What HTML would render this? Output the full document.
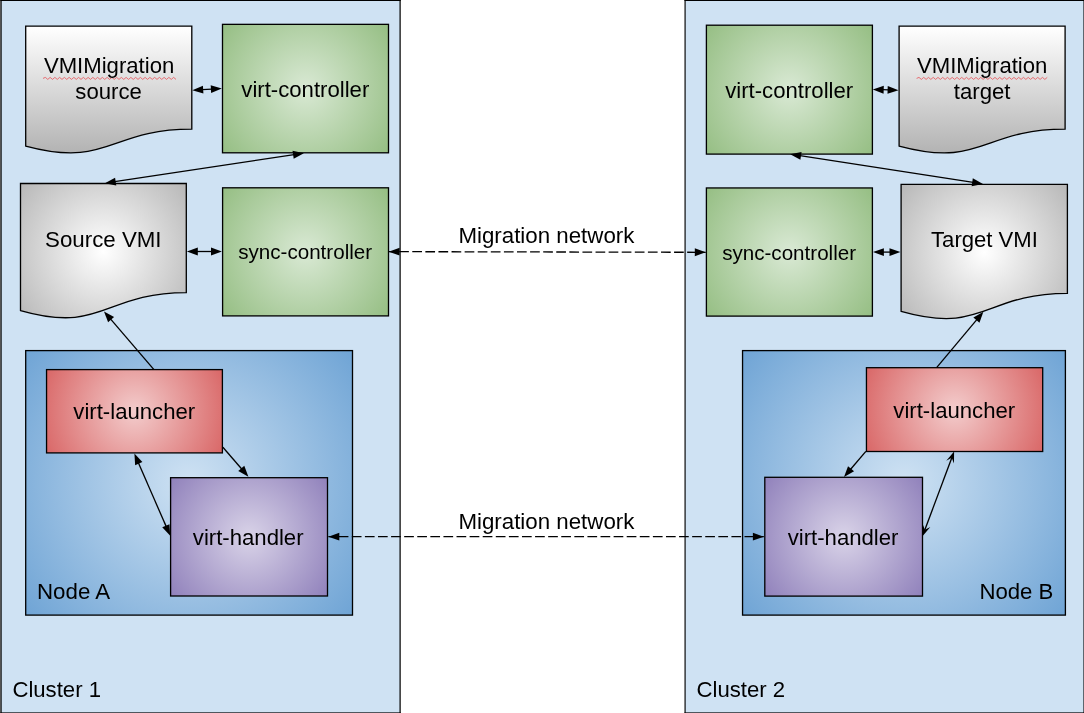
<!DOCTYPE html>
<html><head><meta charset="utf-8">
<style>
html,body{margin:0;padding:0;background:#fff;}
body{width:1084px;height:713px;overflow:hidden;}
svg{display:block;will-change:transform;}
text{font-family:"Liberation Sans",sans-serif;fill:#000;}
</style></head><body>
<svg width="1084" height="713" viewBox="0 0 1084 713">
<defs>
<linearGradient id="gGreyLin" x1="0" y1="0" x2="0" y2="1"><stop offset="0" stop-color="#ffffff"/><stop offset="1" stop-color="#b3b3b3"/></linearGradient>
<radialGradient id="g1" gradientUnits="userSpaceOnUse" cx="305.50" cy="88.58" r="104.95"><stop offset="0" stop-color="#d9e9d4"/><stop offset="1" stop-color="#95be83"/></radialGradient>
<radialGradient id="g2" gradientUnits="userSpaceOnUse" cx="103.40" cy="251.50" r="107.22"><stop offset="0" stop-color="#ffffff"/><stop offset="1" stop-color="#b7b7b7"/></radialGradient>
<radialGradient id="g3" gradientUnits="userSpaceOnUse" cx="305.55" cy="251.85" r="104.80"><stop offset="0" stop-color="#d9e9d4"/><stop offset="1" stop-color="#95be83"/></radialGradient>
<radialGradient id="g4" gradientUnits="userSpaceOnUse" cx="189.10" cy="482.85" r="210.21"><stop offset="0" stop-color="#cfe2f3"/><stop offset="1" stop-color="#6fa4d5"/></radialGradient>
<radialGradient id="g5" gradientUnits="userSpaceOnUse" cx="134.47" cy="411.25" r="97.29"><stop offset="0" stop-color="#f3cccc"/><stop offset="1" stop-color="#d96767"/></radialGradient>
<radialGradient id="g6" gradientUnits="userSpaceOnUse" cx="249.05" cy="536.85" r="98.25"><stop offset="0" stop-color="#d9d3e8"/><stop offset="1" stop-color="#9081bb"/></radialGradient>
<radialGradient id="g7" gradientUnits="userSpaceOnUse" cx="789.40" cy="89.65" r="105.08"><stop offset="0" stop-color="#d9e9d4"/><stop offset="1" stop-color="#95be83"/></radialGradient>
<radialGradient id="g8" gradientUnits="userSpaceOnUse" cx="789.40" cy="252.03" r="104.86"><stop offset="0" stop-color="#d9e9d4"/><stop offset="1" stop-color="#95be83"/></radialGradient>
<radialGradient id="g9" gradientUnits="userSpaceOnUse" cx="984.25" cy="252.35" r="107.38"><stop offset="0" stop-color="#ffffff"/><stop offset="1" stop-color="#b7b7b7"/></radialGradient>
<radialGradient id="g10" gradientUnits="userSpaceOnUse" cx="903.98" cy="482.85" r="208.68"><stop offset="0" stop-color="#cfe2f3"/><stop offset="1" stop-color="#6fa4d5"/></radialGradient>
<radialGradient id="g11" gradientUnits="userSpaceOnUse" cx="954.58" cy="409.60" r="97.58"><stop offset="0" stop-color="#f3cccc"/><stop offset="1" stop-color="#d96767"/></radialGradient>
<radialGradient id="g12" gradientUnits="userSpaceOnUse" cx="843.65" cy="536.70" r="98.72"><stop offset="0" stop-color="#d9d3e8"/><stop offset="1" stop-color="#9081bb"/></radialGradient>
</defs>
<rect x="1.0" y="0.35" width="399.11" height="712.65" fill="#cfe2f3"/>
<line x1="1.0" y1="-0.30500000000000005" x2="1.0" y2="713" stroke="#000" stroke-width="1.35"/>
<line x1="400.11" y1="-0.30500000000000005" x2="400.11" y2="713" stroke="#000" stroke-width="1.22"/>
<line x1="0.32499999999999996" y1="0.35" x2="400.72" y2="0.35" stroke="#000" stroke-width="1.31"/>
<rect x="0.32499999999999996" y="712" width="400.39500000000004" height="1" fill="#000" fill-opacity="0.62"/>
<rect x="685.075" y="0.35" width="398.9849999999999" height="712.65" fill="#cfe2f3"/>
<line x1="685.075" y1="-0.30500000000000005" x2="685.075" y2="713" stroke="#000" stroke-width="1.15"/>
<line x1="1084.06" y1="-0.30500000000000005" x2="1084.06" y2="713" stroke="#000" stroke-width="1.22"/>
<line x1="684.5" y1="0.35" x2="1084.6699999999998" y2="0.35" stroke="#000" stroke-width="1.31"/>
<rect x="684.5" y="712" width="400.1699999999998" height="1" fill="#000" fill-opacity="0.62"/>
<path d="M25.70,26.20 H191.80 V129.09 C108.75,129.09 108.75,168.29 25.70,146.02 Z" fill="url(#gGreyLin)" stroke="#000" stroke-width="1.31" stroke-linejoin="miter"/>
<rect x="222.50" y="24.35" width="166.00" height="128.45" fill="url(#g1)" stroke="#000" stroke-width="1.31"/>
<path d="M20.50,183.50 H186.30 V292.56 C103.40,292.56 103.40,334.12 20.50,310.51 Z" fill="url(#g2)" stroke="#000" stroke-width="1.31" stroke-linejoin="miter"/>
<rect x="222.60" y="187.80" width="165.90" height="128.10" fill="url(#g3)" stroke="#000" stroke-width="1.31"/>
<rect x="25.70" y="350.60" width="326.80" height="264.50" fill="url(#g4)" stroke="#000" stroke-width="1.31"/>
<rect x="46.55" y="369.60" width="175.85" height="83.30" fill="url(#g5)" stroke="#000" stroke-width="1.31"/>
<rect x="170.60" y="477.70" width="156.90" height="118.30" fill="url(#g6)" stroke="#000" stroke-width="1.31"/>
<rect x="706.40" y="25.20" width="166.00" height="128.90" fill="url(#g7)" stroke="#000" stroke-width="1.31"/>
<path d="M899.10,26.20 H1065.10 V129.17 C982.10,129.17 982.10,168.40 899.10,146.11 Z" fill="url(#gGreyLin)" stroke="#000" stroke-width="1.31" stroke-linejoin="miter"/>
<rect x="706.40" y="187.95" width="166.00" height="128.15" fill="url(#g8)" stroke="#000" stroke-width="1.31"/>
<path d="M901.10,184.40 H1067.40 V293.38 C984.25,293.38 984.25,334.91 901.10,311.32 Z" fill="url(#g9)" stroke="#000" stroke-width="1.31" stroke-linejoin="miter"/>
<rect x="742.55" y="350.60" width="322.85" height="264.50" fill="url(#g10)" stroke="#000" stroke-width="1.31"/>
<rect x="866.45" y="367.70" width="176.25" height="83.80" fill="url(#g11)" stroke="#000" stroke-width="1.31"/>
<rect x="764.80" y="477.30" width="157.70" height="118.80" fill="url(#g12)" stroke="#000" stroke-width="1.31"/>
<line x1="202.18" y1="89.63" x2="211.92" y2="89.07" stroke="#000" stroke-width="1.31"/><polygon points="192.30,90.20 202.95,85.63 203.41,93.52" fill="#000"/><polygon points="221.80,88.50 211.15,93.07 210.69,85.18" fill="#000"/>
<line x1="196.80" y1="251.50" x2="212.00" y2="251.50" stroke="#000" stroke-width="1.31"/><polygon points="186.90,251.50 197.80,247.55 197.80,255.45" fill="#000"/><polygon points="221.90,251.50 211.00,255.45 211.00,247.55" fill="#000"/>
<line x1="114.69" y1="181.72" x2="294.11" y2="154.63" stroke="#000" stroke-width="1.31"/><polygon points="104.90,183.20 115.09,177.67 116.27,185.48" fill="#000"/><polygon points="303.90,153.15 293.71,158.68 292.53,150.87" fill="#000"/>
<line x1="153.95" y1="369.60" x2="110.45" y2="318.91" stroke="#000" stroke-width="1.31"/><polygon points="104.00,311.40 114.10,317.10 108.10,322.24" fill="#000"/>
<line x1="222.90" y1="447.20" x2="241.93" y2="469.21" stroke="#000" stroke-width="1.31"/><polygon points="248.40,476.70 238.28,471.04 244.26,465.87" fill="#000"/>
<line x1="138.36" y1="462.67" x2="166.24" y2="526.63" stroke="#000" stroke-width="1.31"/><polygon points="134.40,453.60 142.38,462.01 135.14,465.17" fill="#000"/><polygon points="170.20,535.70 162.22,527.29 169.46,524.13" fill="#000"/>
<line x1="388.70" y1="251.65" x2="705.70" y2="252.30" stroke="#000" stroke-width="1.31" stroke-dasharray="9.7 3.39" stroke-dashoffset="2.6"/><polygon points="388.70,251.65 399.61,247.72 399.59,255.62" fill="#000"/><polygon points="705.70,252.30 694.79,256.23 694.81,248.33" fill="#000"/>
<line x1="328.40" y1="536.65" x2="763.80" y2="536.65" stroke="#000" stroke-width="1.31" stroke-dasharray="9.7 3.39" stroke-dashoffset="2.77"/><polygon points="328.40,536.65 339.30,532.70 339.30,540.60" fill="#000"/><polygon points="763.80,536.65 752.90,540.60 752.90,532.70" fill="#000"/>
<line x1="882.70" y1="89.71" x2="888.60" y2="89.89" stroke="#000" stroke-width="1.31"/><polygon points="872.80,89.40 883.82,85.79 883.57,93.69" fill="#000"/><polygon points="898.50,90.20 887.48,93.81 887.73,85.91" fill="#000"/>
<line x1="882.90" y1="252.10" x2="890.50" y2="252.10" stroke="#000" stroke-width="1.31"/><polygon points="873.00,252.10 883.90,248.15 883.90,256.05" fill="#000"/><polygon points="900.40,252.10 889.50,256.05 889.50,248.15" fill="#000"/>
<line x1="799.98" y1="155.71" x2="973.22" y2="182.39" stroke="#000" stroke-width="1.31"/><polygon points="790.20,154.20 801.57,151.96 800.37,159.76" fill="#000"/><polygon points="983.00,183.90 971.63,186.14 972.83,178.34" fill="#000"/>
<line x1="936.60" y1="367.70" x2="977.04" y2="319.39" stroke="#000" stroke-width="1.31"/><polygon points="983.40,311.80 979.43,322.69 973.37,317.62" fill="#000"/>
<line x1="865.85" y1="451.35" x2="850.42" y2="469.46" stroke="#000" stroke-width="1.31"/><polygon points="844.00,477.00 848.06,466.14 854.08,471.26" fill="#000"/>
<line x1="951.90" y1="457.40" x2="924.70" y2="530.30" stroke="#000" stroke-width="1.31"/><polygon points="954.10,451.50 953.96,463.61 951.72,457.87 946.27,460.75" fill="#000"/><polygon points="922.50,536.20 922.64,524.09 924.88,529.83 930.33,526.95" fill="#000"/>
<path d="M43.00,78.40 L45.38,77.40 L47.75,79.40 L50.12,77.40 L52.50,79.40 L54.88,77.40 L57.25,79.40 L59.62,77.40 L62.00,79.40 L64.38,77.40 L66.75,79.40 L69.12,77.40 L71.50,79.40 L73.88,77.40 L76.25,79.40 L78.62,77.40 L81.00,79.40 L83.38,77.40 L85.75,79.40 L88.12,77.40 L90.50,79.40 L92.88,77.40 L95.25,79.40 L97.62,77.40 L100.00,79.40 L102.38,77.40 L104.75,79.40 L107.12,77.40 L109.50,79.40 L111.88,77.40 L114.25,79.40 L116.62,77.40 L119.00,79.40 L121.38,77.40 L123.75,79.40 L126.12,77.40 L128.50,79.40 L130.88,77.40 L133.25,79.40 L135.62,77.40 L138.00,79.40 L140.38,77.40 L142.75,79.40 L145.12,77.40 L147.50,79.40 L149.88,77.40 L152.25,79.40 L154.62,77.40 L157.00,79.40 L159.38,77.40 L161.75,79.40 L164.12,77.40 L166.50,79.40 L168.88,77.40 L171.25,79.40 L173.62,77.40 L176.00,79.40" fill="none" stroke="#e84a50" stroke-width="0.85" opacity="0.9"/>
<path d="M916.60,78.40 L918.98,77.40 L921.35,79.40 L923.73,77.40 L926.10,79.40 L928.48,77.40 L930.85,79.40 L933.23,77.40 L935.60,79.40 L937.98,77.40 L940.35,79.40 L942.73,77.40 L945.10,79.40 L947.48,77.40 L949.85,79.40 L952.23,77.40 L954.60,79.40 L956.98,77.40 L959.35,79.40 L961.73,77.40 L964.10,79.40 L966.48,77.40 L968.85,79.40 L971.23,77.40 L973.60,79.40 L975.98,77.40 L978.35,79.40 L980.73,77.40 L983.10,79.40 L985.48,77.40 L987.85,79.40 L990.23,77.40 L992.60,79.40 L994.98,77.40 L997.35,79.40 L999.73,77.40 L1002.10,79.40 L1004.48,77.40 L1006.85,79.40 L1009.23,77.40 L1011.60,79.40 L1013.98,77.40 L1016.35,79.40 L1018.73,77.40 L1021.10,79.40 L1023.48,77.40 L1025.85,79.40 L1028.22,77.40 L1030.60,79.40 L1032.97,77.40 L1035.35,79.40 L1037.72,77.40 L1040.10,79.40 L1042.47,77.40 L1044.85,79.40 L1047.22,77.40" fill="none" stroke="#e84a50" stroke-width="0.85" opacity="0.9"/>
<text x="109.1" y="72.8" font-size="22.15" text-anchor="middle">VMIMigration</text>
<text x="108.6" y="99" font-size="22.15" text-anchor="middle">source</text>
<text x="305.3" y="96.8" font-size="22.15" text-anchor="middle">virt-controller</text>
<text x="103.3" y="246.7" font-size="22.3" text-anchor="middle">Source VMI</text>
<text x="305.15" y="258.7" font-size="20.6" text-anchor="middle">sync-controller</text>
<text x="134.25" y="418.7" font-size="22.15" text-anchor="middle">virt-launcher</text>
<text x="248.2" y="545" font-size="22.15" text-anchor="middle">virt-handler</text>
<text x="73.6" y="598.8" font-size="22.3" text-anchor="middle">Node A</text>
<text x="56.7" y="696.9" font-size="22.15" text-anchor="middle">Cluster 1</text>
<text x="546.4" y="242.7" font-size="22.3" text-anchor="middle">Migration network</text>
<text x="546.4" y="528.7" font-size="22.3" text-anchor="middle">Migration network</text>
<text x="789.2" y="97.7" font-size="22.15" text-anchor="middle">virt-controller</text>
<text x="982.2" y="72.8" font-size="22.15" text-anchor="middle">VMIMigration</text>
<text x="982.15" y="99" font-size="22.15" text-anchor="middle">target</text>
<text x="789.1" y="259.6" font-size="20.6" text-anchor="middle">sync-controller</text>
<text x="984.5" y="246.9" font-size="22.1" text-anchor="middle">Target VMI</text>
<text x="954.25" y="417.7" font-size="22.15" text-anchor="middle">virt-launcher</text>
<text x="843.1" y="545" font-size="22.15" text-anchor="middle">virt-handler</text>
<text x="1016.4" y="598.8" font-size="22.2" text-anchor="middle">Node B</text>
<text x="740.85" y="696.9" font-size="22.15" text-anchor="middle">Cluster 2</text>
</svg>
</body></html>
